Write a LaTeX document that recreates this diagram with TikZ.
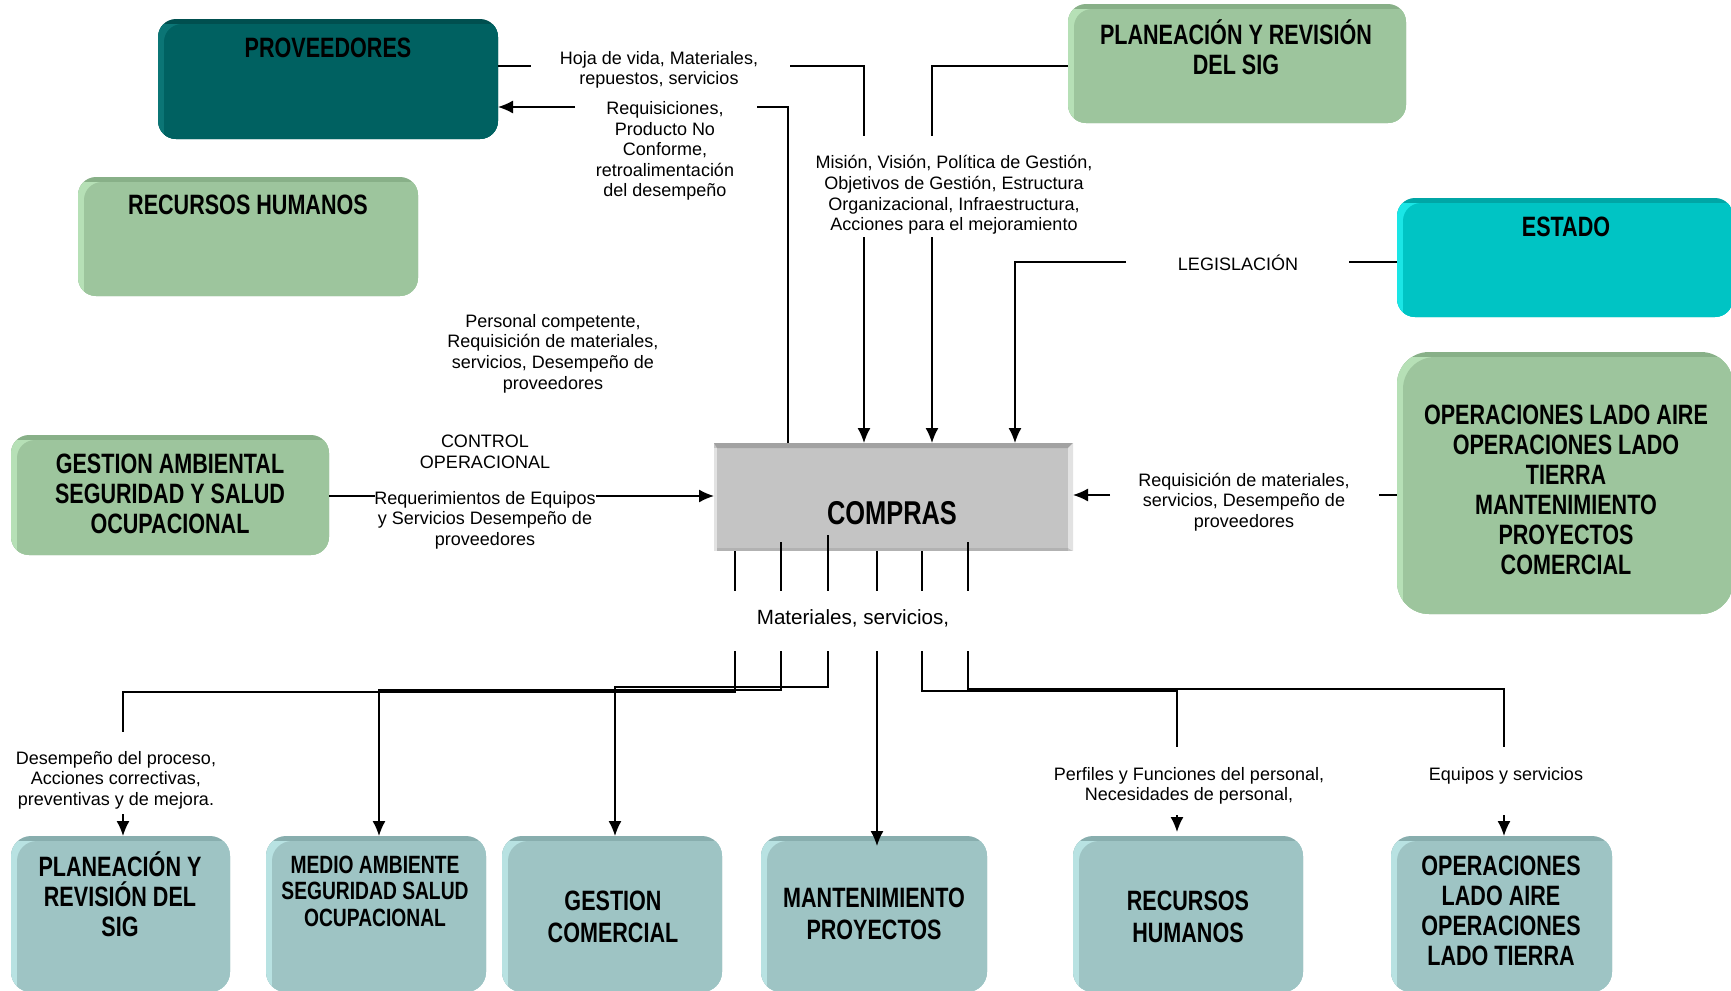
\documentclass[tikz,border=0pt]{standalone}
\usepackage{fontspec}
\setmainfont{Liberation Sans}
\newfontfamily\tfont{Liberation Sans}[FakeStretch=0.77]
\usetikzlibrary{arrows.meta,calc}

% box colours: top edge, face, left highlight
\definecolor{tealT}{HTML}{004F4F}\definecolor{tealM}{HTML}{006161}\definecolor{tealL}{HTML}{0B7575}
\definecolor{grnT}{HTML}{88B088}\definecolor{grnM}{HTML}{9DC59D}\definecolor{grnL}{HTML}{B6E0B6}
\definecolor{cyaT}{HTML}{00A6A6}\definecolor{cyaM}{HTML}{00C4C4}\definecolor{cyaL}{HTML}{1AE6E6}
\definecolor{bluT}{HTML}{88AEAE}\definecolor{bluM}{HTML}{9EC4C4}\definecolor{bluL}{HTML}{B8E2E2}
\definecolor{gryM}{HTML}{C4C4C4}\definecolor{gryT}{HTML}{A2A2A2}\definecolor{gryL}{HTML}{E2E2E2}\definecolor{gryB}{HTML}{B2B2B2}

\tikzset{
  boxbase/.style={draw=none, inner sep=0pt, outer sep=0pt},
  bev/.style n args={4}{boxbase, fill=#1, rounded corners=#4,
    path picture={
      \fill[#3, sharp corners] ([yshift=-2.5pt]path picture bounding box.north west)
        rectangle (path picture bounding box.south east);
      \fill[#2, rounded corners=#4] ([xshift=3pt,yshift=-2.5pt]path picture bounding box.north west)
        rectangle ([xshift=30pt,yshift=-30pt]path picture bounding box.south east);
    }},
  tealbox/.style={bev={tealT}{tealM}{tealL}{9pt}},
  grnbox/.style={bev={grnT}{grnM}{grnL}{9pt}},
  cyabox/.style={bev={cyaT}{cyaM}{cyaL}{9pt}},
  blubox/.style={bev={bluT}{bluM}{bluL}{10pt}},
  graybox/.style={boxbase, fill=gryM,
    path picture={
      \coordinate (nw) at (path picture bounding box.north west);
      \coordinate (se) at (path picture bounding box.south east);
      \fill[gryT] (nw) -- (nw -| se) -- ([xshift=-2.5pt,yshift=-2.5pt]nw -| se)
        -- ([xshift=1.5pt,yshift=-2.5pt]nw) -- cycle;
      \fill[gryL] (nw -| se) -- (se) -- ([xshift=-2.5pt,yshift=1.5pt]se)
        -- ([xshift=-2.5pt,yshift=-2.5pt]nw -| se) -- cycle;
      \fill[gryL] ([yshift=-2.5pt]nw) -- ([xshift=1.5pt,yshift=-2.5pt]nw)
        -- ([xshift=1.5pt]nw |- se) -- (nw |- se) -- cycle;
      \fill[gryB] ([xshift=1.5pt,yshift=1.5pt]nw |- se) -- ([xshift=-2.5pt,yshift=1.5pt]se)
        -- ([xshift=-2.5pt]se) -- ([xshift=1.5pt]nw |- se) -- cycle;
    }},
  ttl/.style={font={\tfont\bfseries\fontsize{14}{15}\selectfont}, align=center, inner sep=0pt},
  lab/.style={font={\fontsize{9}{10.3}\selectfont}, align=center, inner sep=0pt},
  conn/.style={line width=0.7pt, black},
  arr/.style={conn, -{Latex[length=7.5pt,width=6.5pt]}},
}

\begin{document}
\begin{tikzpicture}[x=0.5pt,y=-0.5pt]
\useasboundingbox (0,0) rectangle (1731,991);

% ---------- boxes ----------
\node[tealbox, minimum width=170pt, minimum height=60pt] (prov) at (328,79) {};
\node[grnbox, minimum width=170pt, minimum height=59.5pt] (rhA) at (248,236.5) {};
\node[grnbox, minimum width=169pt, minimum height=59.5pt] (planA) at (1237,63.5) {};
\node[cyabox, minimum width=168pt, minimum height=59.5pt] (estado) at (1565,257.5) {};
\node[bev={grnT}{grnM}{grnL}{16pt}, minimum width=168pt, minimum height=131pt] (ops) at (1565,483) {};
\node[grnbox, minimum width=159pt, minimum height=60pt] (gest) at (170,495) {};
\node[graybox, minimum width=179.5pt, minimum height=54pt] (compras) at (893.5,497) {};

\node[blubox, minimum width=109.5pt, minimum height=78pt] (planB) at (120.5,914) {};
\node[blubox, minimum width=110pt, minimum height=78pt] (medio) at (376,914) {};
\node[blubox, minimum width=110pt, minimum height=78pt] (gcom) at (612,914) {};
\node[blubox, minimum width=113pt, minimum height=78pt] (mant) at (874,914) {};
\node[blubox, minimum width=115pt, minimum height=78pt] (rhB) at (1188,914) {};
\node[blubox, minimum width=110.5pt, minimum height=78pt] (opsB) at (1501.5,914) {};

% ---------- box titles ----------
\node[ttl] (tprov) at (328,48) {PROVEEDORES};
\node[ttl] (trhA) at (248,205) {RECURSOS HUMANOS};
\node[ttl] (tplanA) at (1236,47) {PLANEACIÓN Y REVISIÓN\\DEL SIG};
\node[ttl] (testado) at (1566,227) {ESTADO};
\node[ttl] (tops) at (1566,490) {OPERACIONES LADO AIRE\\OPERACIONES LADO\\TIERRA\\MANTENIMIENTO\\PROYECTOS\\COMERCIAL};
\node[ttl] (tgest) at (170,494) {GESTION AMBIENTAL\\SEGURIDAD Y SALUD\\OCUPACIONAL};
\node[ttl, font={\tfont\bfseries\fontsize{16.5}{18}\selectfont}] (tcompras) at (892,513) {COMPRAS};

\node[ttl] (tplanB) at (120,894) {PLANEACIÓN Y\\REVISIÓN DEL\\SIG};
\node[ttl, font={\tfont\bfseries\fontsize{12.5}{13.3}\selectfont}] (tmedio) at (375,891) {MEDIO AMBIENTE\\SEGURIDAD SALUD\\OCUPACIONAL};
\node[ttl, font={\tfont\bfseries\fontsize{14}{16}\selectfont}] (tgcom) at (613,917) {GESTION\\COMERCIAL};
\node[ttl, font={\tfont\bfseries\fontsize{14}{16}\selectfont}] (tmant) at (874,914) {MANTENIMIENTO\\PROYECTOS};
\node[ttl, font={\tfont\bfseries\fontsize{14}{16}\selectfont}] (trhB) at (1188,917) {RECURSOS\\HUMANOS};
\node[ttl] (topsB) at (1501,911) {OPERACIONES\\LADO AIRE\\OPERACIONES\\LADO TIERRA};

% ---------- labels ----------
\node[lab] (hoja) at (659,70) {Hoja de vida, Materiales,\\repuestos, servicios};
\node[lab] (requi) at (665,151) {Requisiciones,\\Producto No\\Conforme,\\retroalimentación\\del desempeño};
\node[lab] (mision) at (954,195) {Misión, Visión, Política de Gestión,\\Objetivos de Gestión, Estructura\\Organizacional, Infraestructura,\\Acciones para el mejoramiento};
\node[lab] (legis) at (1238,263) {LEGISLACIÓN};
\node[lab] (personal) at (553,353.5) {Personal competente,\\Requisición de materiales,\\servicios, Desempeño de\\proveedores};
\node[lab] (control) at (485,451.5) {CONTROL\\OPERACIONAL};
\node[lab] (reqeq) at (485,520) {Requerimientos de Equipos\\y Servicios Desempeño de\\proveedores};
\node[lab] (reqop) at (1244,502) {Requisición de materiales,\\servicios, Desempeño de\\proveedores};
\node[lab, font={\fontsize{10.3}{12}\selectfont}] (mater) at (853,618) {Materiales, servicios,};
\node[lab] (desemp) at (116,780) {Desempeño del proceso,\\Acciones correctivas,\\preventivas y de mejora.};
\node[lab] (perfil) at (1189,786) {Perfiles y Funciones del personal,\\Necesidades de personal,};
\node[lab] (equipos) at (1506,776) {Equipos y servicios};

% ---------- connector break points ----------
\coordinate (hojaL) at (531,66);   \coordinate (hojaR) at (790,66);
\coordinate (misA1) at (864,136);  \coordinate (misB1) at (864,237);
\coordinate (misA2) at (932,136);  \coordinate (misB2) at (932,237);
\coordinate (reqUp) at (788,107);  \coordinate (reqR) at (757,107);  \coordinate (reqL) at (575,107);
\coordinate (legR) at (1349,262);  \coordinate (legL) at (1126,262); \coordinate (legD) at (1015,262);
\coordinate (ropR) at (1379,495);  \coordinate (ropL) at (1110,495);
\coordinate (gestR) at (375,496);  \coordinate (gestL) at (596,496);

% ---------- inputs to COMPRAS ----------
\draw[conn] (prov.east |- hojaL) -- (hojaL);
\draw[conn] (hojaR) -| (misA1);
\draw[arr] (misB1) -- (compras.north -| misB1);

\draw[conn] (compras.north -| reqUp) -- (reqUp) -- (reqR);
\draw[arr] (reqL) -- (prov.east |- reqL);

\draw[conn] (planA.west |- hojaR) -| (misA2);
\draw[arr] (misB2) -- (compras.north -| misB2);

\draw[conn] (estado.west |- legR) -- (legR);
\draw[arr] (legL) -| (compras.north -| legD);

\draw[conn] (ops.west |- ropR) -- (ropR);
\draw[arr] (ropL) -- (compras.east |- ropL);

\draw[conn] (gest.east |- gestR) -- (gestR);
\draw[arr] (gestL) -- (compras.west |- gestL);

% ---------- outputs of COMPRAS ----------
\foreach \i/\x/\y in {1/735/551, 2/781/542, 3/828/535, 4/877/551, 5/922/551, 6/968/542}{
  \coordinate (top\i) at (\x,\y);
  \coordinate (o\i) at (\x,591);
  \coordinate (p\i) at (\x,651);
}
\foreach \i in {1,...,6}{ \draw[conn] (top\i) -- (o\i); }

\coordinate (h1) at (123,692);  \coordinate (e1) at (123,732);  \coordinate (f1) at (123,814);
\coordinate (h2) at (379,690);
\coordinate (h3) at (615,687);
\coordinate (h5) at (1177,691); \coordinate (e5) at (1177,747); \coordinate (f5) at (1177,815);
\coordinate (h6) at (1504,689); \coordinate (e6) at (1504,747); \coordinate (f6) at (1504,815);

\draw[conn] (p1) |- (h1) -- (e1);
\draw[arr] (f1) -- (planB.north -| f1);
\draw[arr] (p2) |- (h2) -- (medio.north -| h2);
\draw[arr] (p3) |- (h3) -- (gcom.north -| h3);
\draw[arr] (p4) -- ([yshift=-5pt]mant.north -| p4);
\draw[conn] (p5) |- (h5) -- (e5);
\draw[arr] (f5) -- ([yshift=2pt]rhB.north -| f5);
\draw[conn] (p6) |- (h6) -- (e6);
\draw[arr] (f6) -- (opsB.north -| f6);

\end{tikzpicture}
\end{document}
